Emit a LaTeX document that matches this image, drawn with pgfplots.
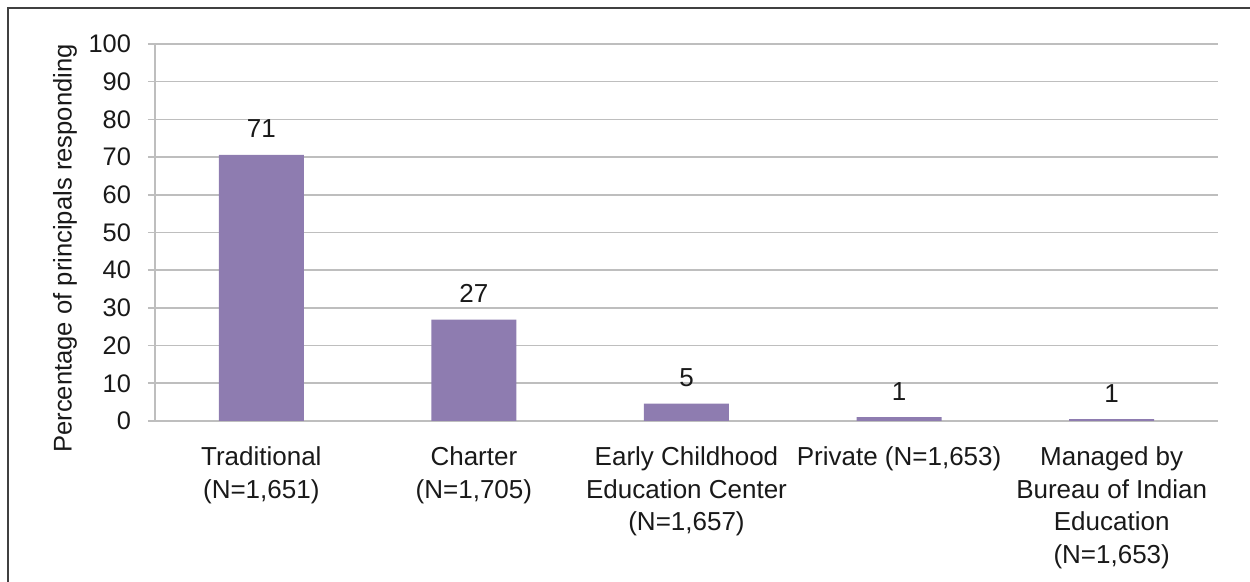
\documentclass[border=0pt]{standalone}
\usepackage{pgfplots}
\pgfplotsset{compat=1.18}
\usepackage{fontspec}
\setmainfont{Liberation Sans}
\definecolor{barc}{RGB}{142,124,176}
\definecolor{gridc}{RGB}{190,190,190}
\definecolor{framec}{RGB}{64,64,64}
\definecolor{txt}{RGB}{25,25,25}
\begin{document}
\begin{tikzpicture}[x=1pt,y=1pt]
\useasboundingbox (0,0) rectangle (625,291);
\draw[line width=1.1pt, framec] (4,-2) -- (4,286.8) -- (627,286.8);
\begin{axis}[
  at={(77.5pt,80.5pt)}, anchor=south west,
  scale only axis, width=531.5pt, height=188.5pt,
  ymin=0, ymax=100, ytick={0,10,...,100},
  xmin=-0.5, xmax=4.5,
  xtick=data,
  xticklabels={{Traditional\\(N=1,651)},{Charter\\(N=1,705)},{Early Childhood\\Education Center\\(N=1,657)},{Private (N=1,653)},{Managed by\\Bureau of Indian\\Education\\(N=1,653)}},
  xticklabel style={align=center, font=\fontsize{13}{16.2}\selectfont, text=txt, yshift=-6pt},
  yticklabel style={font=\fontsize{12.7}{14}\selectfont, text=txt, xshift=-5pt},
  /pgf/number format/assume math mode=true,
  axis x line=bottom, axis y line=left,
  axis line style={-, gridc, line width=0.8pt},
  ymajorgrids, major grid style={gridc, line width=0.8pt},
  xtick style={draw=none},
  ytick style={gridc, line width=0.8pt},
  tick align=outside, major tick length=3.5pt,
  ylabel={Percentage of principals responding},
  ylabel style={font=\fontsize{12.8}{14}\selectfont, text=txt, at={(axis description cs:-0.0847,0.4576)}, anchor=center},
  clip=false,
]
\addplot[ybar, bar width=42.5pt, fill=barc, draw=none,
  point meta=explicit symbolic,
  nodes near coords,
  every node near coord/.append style={font=\fontsize{13}{14}\selectfont, text=txt, yshift=5pt}]
  coordinates {(0,70.6) [71] (1,26.9) [27] (2,4.6) [5] (3,1.0) [1] (4,0.5) [1]};
\end{axis}
\end{tikzpicture}
\end{document}
